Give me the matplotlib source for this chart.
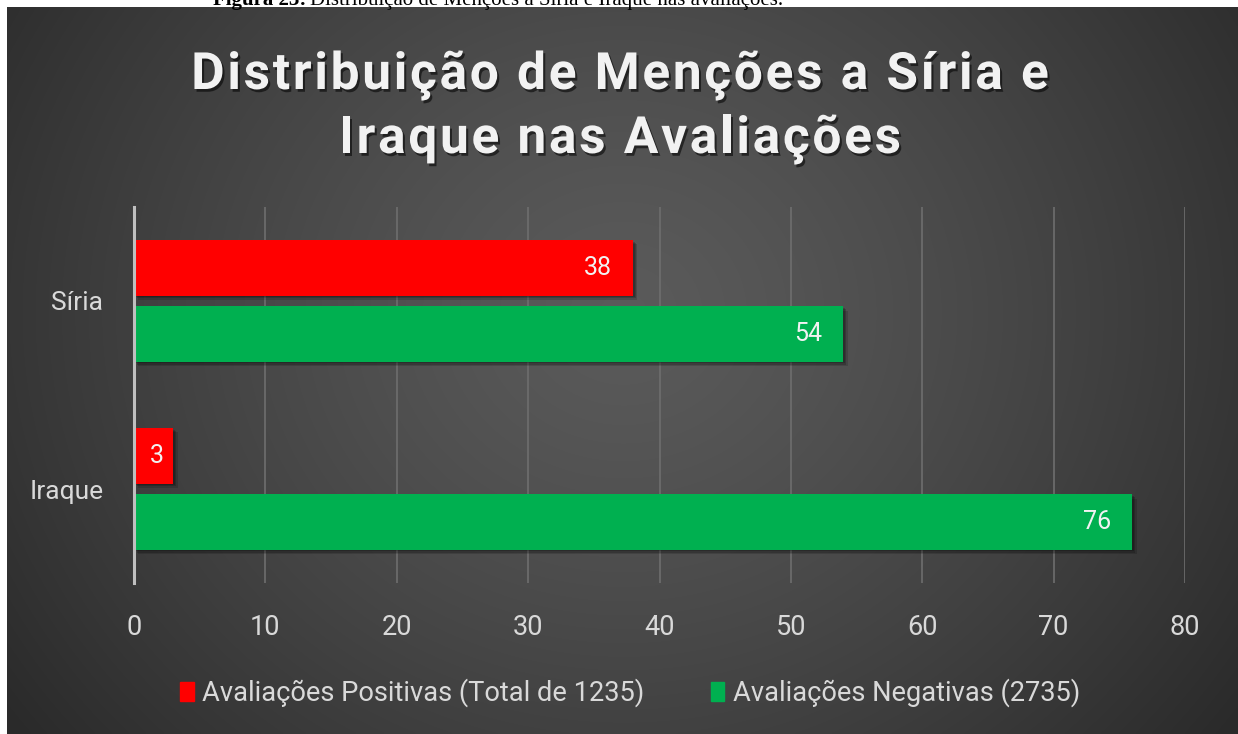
import numpy as np
import matplotlib
matplotlib.use("Agg")
import matplotlib.pyplot as plt
import matplotlib.patheffects as pe
from matplotlib.patches import Rectangle
from matplotlib.font_manager import FontProperties, findfont
from matplotlib.ft2font import FT2Font

# ---- data ----
categories = ["Iraque", "Síria"]
positivas = [3, 38]
negativas = [76, 54]
series_names = ["Avaliações Positivas (Total de 1235)", "Avaliações Negativas (2735)"]
series_colors = ["#FF0000", "#00B050"]
xticks = [0, 10, 20, 30, 40, 50, 60, 70, 80]
title_lines = ["Distribuição de Menções a Síria e", "Iraque nas Avaliações"]
caption_bold = "Figura 23:"
caption_rest = "Distribuição de Menções a Síria e Iraque nas avaliações."

W, H = 1238, 734
fig = plt.figure(figsize=(W / 100, H / 100), dpi=100)
fig.patch.set_facecolor("white")

CHART_TOP = 7

# chart background with radial gradient
bg = fig.add_axes([7 / W, 0, 1 - 7 / W, (H - CHART_TOP) / H], zorder=0)
bg.set_axis_off()
ny, nx = 300, 500
yy, xx = np.mgrid[0:ny, 0:nx]
cx, cy = nx * 0.5, ny * 0.42
r = np.sqrt(((xx - cx) / (nx * 0.62)) ** 2 + ((yy - cy) / (ny * 0.95)) ** 2)
r = np.clip(r, 0, 1)
inner, outer = 0.355, 0.165
val = inner + (outer - inner) * r ** 1.3
img = np.dstack([val, val, val])
bg.imshow(img, aspect="auto", extent=[0, 1, 0, 1], origin="upper", interpolation="bilinear")
bg.set_xlim(0, 1)
bg.set_ylim(0, 1)

# caption (partly hidden at the top edge, as in the source page)
cap_y = 1 - 5 / H
fig.text(213 / W, cap_y, caption_bold, family="Liberation Serif", weight="bold",
         fontsize=15, color="black", va="baseline", ha="left", zorder=10)
fig.text(310 / W, cap_y, caption_rest, family="Liberation Serif",
         fontsize=15, color="black", va="baseline", ha="left", zorder=10)

# main axes
ax = fig.add_axes([134 / W, 1 - 583 / H, (1185 - 134) / W, (583 - 207) / H], zorder=1)
ax.set_facecolor("none")
ypos = np.arange(len(categories))
h = 0.295
off = 0.176
shadow = [pe.SimplePatchShadow(offset=(1, -1), alpha=0.18, shadow_rgbFace="black"),
          pe.SimplePatchShadow(offset=(2, -2), alpha=0.18, shadow_rgbFace="black"),
          pe.SimplePatchShadow(offset=(3, -3), alpha=0.15, shadow_rgbFace="black"),
          pe.Normal()]
b1 = ax.barh(ypos + off, positivas, height=h, color=series_colors[0], zorder=3)
b2 = ax.barh(ypos - off, negativas, height=h, color=series_colors[1], zorder=3)
for bars in (b1, b2):
    for p in bars:
        p.set_path_effects(shadow)
ax.set_xlim(0, 80)
ax.set_ylim(-0.5, 1.5)
for bars, vals in ((b1, positivas), (b2, negativas)):
    for p, v in zip(bars, vals):
        yc = p.get_y() + p.get_height() / 2
        if v < 8:
            ax.annotate(str(v), (v / 2, yc), xytext=(2.5, 0), textcoords="offset points",
                        ha="center", va="center", fontsize=18, family="Roboto",
                        color="#F2F2F2", zorder=4)
        else:
            ax.annotate(str(v), (v, yc), xytext=(-15.5, 0), textcoords="offset points",
                        ha="right", va="center", fontsize=18, family="Roboto",
                        color="#F2F2F2", zorder=4)

ax.set_xticks(xticks)
ax.set_xticklabels([str(t) for t in xticks])
ax.set_yticks(ypos)
ax.set_yticklabels(categories)
ax.tick_params(axis="x", length=0, pad=22, labelsize=19.5, labelcolor="#D9D9D9")
ax.tick_params(axis="y", length=0, pad=22, labelsize=19, labelcolor="#D9D9D9")
for lab in ax.get_xticklabels() + ax.get_yticklabels():
    lab.set_family("Roboto")
ax.grid(axis="x", color="#6E6E6E", linewidth=1.2, zorder=0)
ax.set_axisbelow(True)
for s in ["top", "right", "bottom"]:
    ax.spines[s].set_visible(False)
ax.spines["left"].set_color("#BFBFBF")
ax.spines["left"].set_linewidth(2.2)
ax.spines["left"].set_zorder(5)

# title with letter spacing
title_fp = FontProperties(family="Roboto", weight="bold", size=37)
font = FT2Font(findfont(title_fp))
font.set_size(37, 100)
try:
    from matplotlib.ft2font import LoadFlags
    nohint = LoadFlags.NO_HINTING
except Exception:
    nohint = 2
tracking = 2.7
title_shadow = [pe.SimplePatchShadow(offset=(1.5, -2), alpha=0.55, shadow_rgbFace="black"), pe.Normal()]


def spaced_line(text, xc, baseline):
    advs = []
    for c in text:
        g = font.load_char(ord(c), flags=nohint)
        advs.append(g.linearHoriAdvance / 65536.0)
    total = sum(advs) + tracking * (len(text) - 1)
    x = xc - total / 2
    for c, a in zip(text, advs):
        if c != " ":
            t = fig.text(x / W, 1 - baseline / H, c, fontproperties=title_fp,
                         color="#F2F2F2", ha="left", va="baseline", zorder=10)
            t.set_path_effects(title_shadow)
        x += a + tracking


spaced_line(title_lines[0], 620, 89)
spaced_line(title_lines[1], 620, 153)

# legend
handles = [Rectangle((0, 0), 1, 1, color=c) for c in series_colors]
leg = fig.legend(handles=handles, labels=series_names, loc="center",
                 bbox_to_anchor=(630 / W, 1 - 693 / H), ncol=2, frameon=False,
                 prop={"family": "Roboto", "size": 19.6}, labelcolor="#D9D9D9",
                 handlelength=0.5, handleheight=0.7, handletextpad=0.3, columnspacing=2.45)

fig.savefig("out.png", dpi=100, facecolor=fig.get_facecolor())
